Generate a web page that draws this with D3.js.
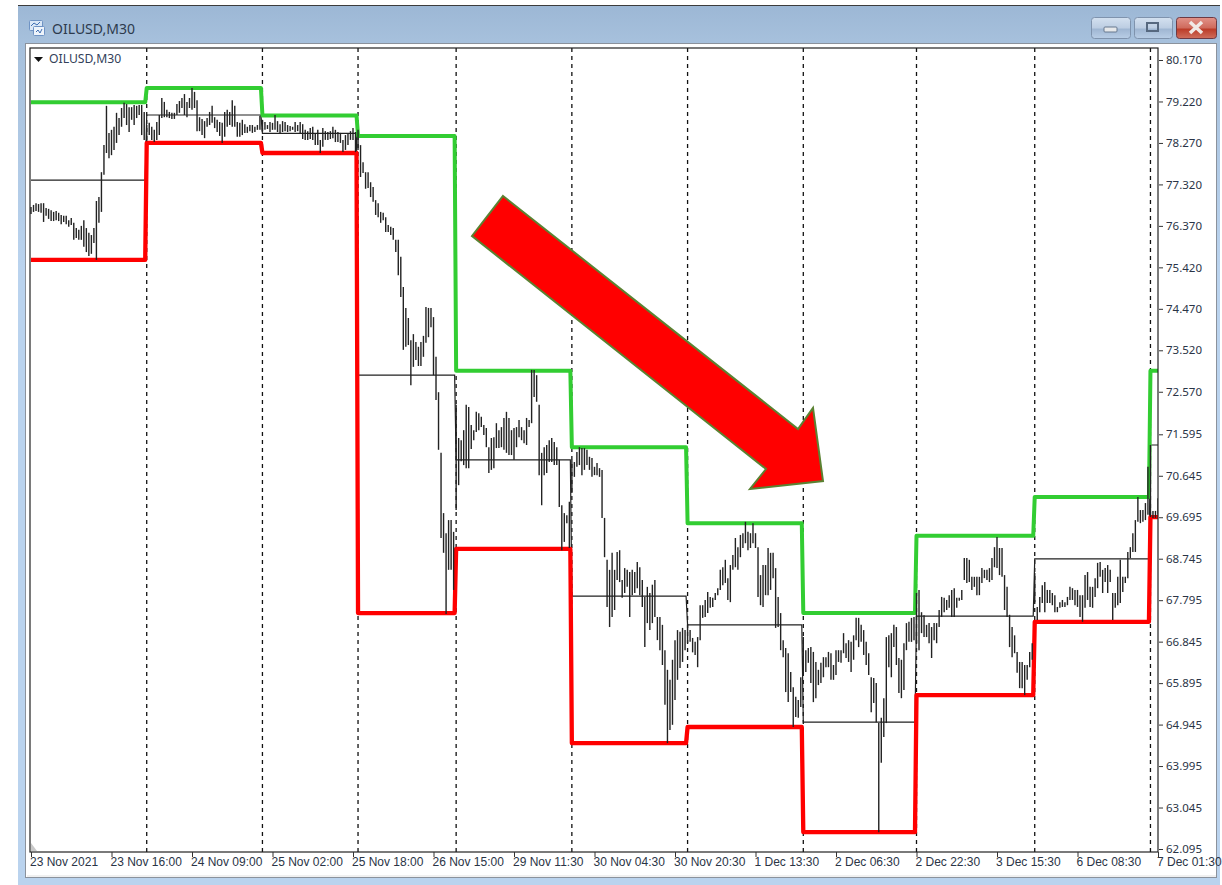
<!DOCTYPE html>
<html><head><meta charset="utf-8">
<style>html,body{margin:0;padding:0;background:#fff}svg{display:block}</style>
<script src="https://cdn.jsdelivr.net/npm/d3@7/dist/d3.min.js"></script>
</head><body><div id="c"></div>
<script>
const symbol = "OILUSD,M30";
const priceTicks = [80.17,79.22,78.27,77.32,76.37,75.42,74.47,73.52,72.57,71.595,70.645,69.695,68.745,67.795,66.845,65.895,64.945,63.995,63.045,62.095];
const timeTickBars = [0,32,64,96,128,160,192,224,256,288,320,352,384,416,448];
const timeTickLabels = ["23 Nov 2021","23 Nov 16:00","24 Nov 09:00","25 Nov 02:00","25 Nov 18:00","26 Nov 15:00","29 Nov 11:30","30 Nov 04:30","30 Nov 20:30","1 Dec 13:30","2 Dec 06:30","2 Dec 22:30","3 Dec 15:30","6 Dec 08:30","7 Dec 01:30"];
const dayStarts = [0,46,92,130,169,215,261,307,352,399,445];
const dayHigh = [79.20,79.53,78.90,78.43,73.05,71.30,69.56,67.50,69.27,70.16,73.05];
const dayLow  = [75.59,78.27,78.04,67.50,68.97,64.52,64.89,62.48,65.62,67.30,69.70];
const dayMid  = [77.42,78.91,78.49,72.95,71.01,67.89,67.23,65.00,67.43,68.74,71.35];
const barHigh = [
76.80,76.85,76.89,76.87,76.89,76.89,76.78,76.76,76.73,76.69,76.71,76.67,76.62,76.60,76.60,76.50,76.55,76.44,76.32,76.28,76.37,76.50,76.32,76.21,76.16,76.32,76.94,77.03,77.60,78.22,79.12,78.50,78.57,78.64,78.96,78.84,79.07,79.19,79.16,79.09,79.09,79.14,79.12,79.14,79.14,78.98,
78.68,78.73,78.64,78.57,78.75,78.91,79.30,79.21,79.03,78.98,78.96,78.96,79.16,79.23,79.30,79.39,79.21,79.30,79.53,79.44,79.25,78.86,78.82,78.77,78.84,78.98,79.12,78.86,78.80,78.75,78.73,78.98,79.03,78.98,79.25,79.12,78.75,78.73,78.80,78.70,78.64,78.68,78.68,78.64,78.68,78.89,
78.80,78.75,78.68,78.75,78.73,78.91,78.77,78.70,78.77,78.75,78.68,78.66,78.64,78.75,78.68,78.75,78.70,78.57,78.54,78.61,78.64,78.50,78.57,78.34,78.61,78.54,78.52,78.54,78.64,78.57,78.52,78.50,78.34,78.45,78.50,78.54,78.61,78.52,
78.57,78.22,77.83,77.60,77.60,77.37,77.26,76.96,76.89,76.69,76.67,76.57,76.39,76.35,76.32,76.05,76.05,75.66,74.97,74.49,74.26,73.75,73.89,73.71,73.60,73.71,73.85,74.51,74.49,74.49,74.28,73.37,72.56,71.17,69.79,69.33,69.63,69.63,69.36,
72.27,71.51,71.46,71.69,72.27,72.22,71.81,71.69,72.11,72.08,72.00,71.81,71.74,71.30,71.51,71.53,71.85,71.69,71.76,71.97,72.11,71.97,71.69,71.74,71.76,71.92,71.76,71.69,71.97,71.92,73.07,73.07,72.95,72.27,71.17,71.30,71.35,71.46,71.51,71.42,71.30,71.01,69.97,69.79,69.74,70.05,
71.01,70.96,71.19,71.30,71.28,71.28,71.24,71.08,71.05,70.85,70.94,70.82,70.78,69.68,68.72,68.49,68.88,68.49,68.90,68.94,68.26,68.53,68.49,68.44,68.49,68.44,68.67,68.55,68.26,67.87,68.10,67.96,68.15,68.26,67.41,67.41,67.23,66.65,66.20,65.97,66.43,66.88,67.11,67.07,67.16,67.11,
67.23,67.11,66.93,66.84,66.95,67.68,67.68,67.80,67.98,67.87,67.85,67.96,68.07,68.49,68.55,68.72,68.30,68.60,68.83,69.22,69.01,69.29,69.33,69.59,69.36,69.33,69.56,69.33,69.01,68.37,68.60,68.60,68.99,68.88,68.88,68.53,67.87,67.50,66.88,66.70,66.58,66.15,65.80,65.58,65.51,66.03,
66.95,66.65,66.70,66.72,66.61,66.38,66.20,66.36,66.49,66.49,66.61,66.58,66.31,66.65,66.65,66.65,67.04,66.81,66.88,66.84,66.99,67.39,67.39,67.23,67.11,66.84,66.58,66.03,66.01,65.90,64.98,65.10,65.55,66.95,66.99,67.04,67.23,67.18,66.47,66.43,66.81,67.27,67.30,67.39,67.41,
67.96,68.03,67.52,67.45,67.23,67.27,67.18,67.27,67.27,67.57,67.87,67.85,67.80,67.91,68.03,68.07,67.85,67.85,68.03,68.76,68.76,68.72,68.33,68.33,68.33,68.33,68.53,68.49,68.49,68.53,68.76,69.01,69.24,68.99,68.99,68.37,68.10,67.46,67.18,66.99,66.61,66.38,66.38,66.31,66.31,66.61,66.81,
68.42,67.64,67.87,68.14,68.21,68.03,68.03,67.96,67.91,67.64,67.75,67.80,67.75,67.87,68.10,68.07,68.03,68.03,67.91,67.91,68.37,68.44,68.10,68.10,68.30,68.65,68.67,68.49,68.53,68.60,68.49,67.96,67.96,68.33,68.72,68.33,68.33,68.90,69.01,69.33,69.63,70.16,69.86,69.86,70.02,70.85,71.35,69.84,69.84,70.13];
const barLow = [
76.64,76.69,76.71,76.69,76.67,76.46,76.60,76.53,76.48,76.48,76.50,76.48,76.41,76.46,76.41,76.35,76.39,76.05,76.09,76.05,76.05,75.89,75.77,75.68,75.73,75.98,75.59,76.44,76.69,77.54,78.04,77.92,77.99,78.11,78.27,78.45,78.64,78.84,78.68,78.52,78.80,78.68,78.84,78.91,78.45,78.34,
78.31,78.45,78.34,78.29,78.34,78.45,78.84,78.86,78.86,78.84,78.82,78.82,78.91,78.96,79.07,78.91,78.86,79.07,79.03,79.07,78.54,78.54,78.45,78.38,78.64,78.68,78.73,78.61,78.52,78.43,78.27,78.41,78.64,78.68,78.64,78.64,78.41,78.41,78.45,78.50,78.50,78.54,78.50,78.52,78.57,78.57,
78.54,78.57,78.59,78.52,78.57,78.57,78.52,78.50,78.52,78.54,78.52,78.54,78.57,78.52,78.54,78.50,78.36,78.34,78.34,78.36,78.34,78.22,78.22,78.04,78.18,78.34,78.34,78.36,78.38,78.29,78.29,78.27,78.06,78.11,78.22,78.34,78.34,78.06,
78.11,77.49,77.58,77.22,77.24,77.03,76.92,76.62,76.57,76.44,76.50,76.23,76.23,76.16,76.05,75.77,75.24,74.74,73.53,73.60,73.64,72.72,73.14,73.30,73.16,73.16,73.37,73.69,73.82,74.05,72.95,72.38,71.24,69.22,68.88,67.48,68.49,68.49,68.03,
69.86,70.43,70.98,70.89,70.82,70.82,71.26,71.46,71.65,71.69,71.76,71.58,71.30,70.71,70.78,70.82,71.28,71.28,71.30,71.24,71.17,71.12,71.12,71.01,71.30,71.53,71.46,71.39,71.35,71.76,71.85,72.45,72.34,70.66,69.97,70.66,70.71,70.96,70.96,70.89,70.89,69.93,68.94,69.13,69.56,68.99,
70.25,70.62,70.85,70.89,70.66,70.78,70.89,70.78,70.62,70.66,70.66,70.62,69.68,68.78,67.64,67.18,67.41,67.57,68.26,68.21,67.85,67.96,68.10,67.41,67.91,67.96,68.07,67.91,67.64,66.72,67.27,67.11,67.27,67.41,66.88,66.65,66.31,65.40,64.52,64.82,64.94,65.51,65.97,66.24,66.38,66.65,
66.81,66.84,66.60,66.54,66.26,66.88,67.39,67.41,67.50,67.62,67.64,67.80,67.91,68.03,68.14,68.19,67.80,67.75,68.49,68.55,68.49,68.78,68.99,69.10,68.94,68.99,69.10,68.99,67.87,67.68,67.64,67.91,67.91,68.03,68.30,67.16,67.18,66.65,66.49,65.69,65.46,65.69,64.89,65.12,65.10,65.35,
66.15,66.15,66.36,65.90,65.46,65.55,65.85,65.90,66.03,66.26,66.26,65.97,65.97,66.08,66.38,66.36,66.58,66.47,66.38,66.15,66.43,66.88,66.72,66.84,66.54,66.31,66.08,65.23,65.44,65.00,62.48,64.07,64.66,64.98,66.26,66.03,66.72,66.31,65.67,65.55,65.74,66.65,66.84,66.84,66.88,
66.81,66.65,67.04,66.95,66.95,66.81,66.47,66.88,66.81,67.18,67.41,67.52,67.57,67.62,67.41,67.41,67.62,67.78,67.80,68.26,68.19,68.21,68.03,68.10,67.91,67.91,68.19,68.30,68.26,68.21,68.26,68.55,68.53,68.37,68.33,67.57,67.41,66.72,66.49,66.58,66.13,65.78,65.78,65.62,65.97,66.26,66.43,
67.75,67.34,67.52,67.73,67.52,67.73,67.73,67.68,67.52,67.52,67.62,67.64,67.64,67.68,67.80,67.80,67.68,67.64,67.41,67.30,67.62,67.80,67.64,67.62,67.87,68.07,68.33,67.96,68.21,67.96,68.21,67.34,67.62,67.68,67.73,67.98,68.19,68.30,68.76,68.90,68.90,69.59,69.56,69.59,69.63,69.75,69.70,69.68,69.68,69.75];
const lastBar = 448;

const W = 1222, H = 885;
const plot = {l:30, r:1158, t:48, b:852};
const x = d3.scaleLinear().domain([0,lastBar]).range([31,1158]);
const y = d3.scaleLinear().domain([62.095,80.17]).range([849,60]);

const svg = d3.select("#c").append("svg").attr("width",W).attr("height",H);
const defs = svg.append("defs");
function grad(id,stops,x2,y2){
  const g = defs.append("linearGradient").attr("id",id).attr("x1",0).attr("y1",0).attr("x2",x2).attr("y2",y2);
  stops.forEach(s=>g.append("stop").attr("offset",s[0]).attr("stop-color",s[1]));
}
grad("frame",[[0,"#9cb7d5"],[0.04,"#a6c0dc"],[0.3,"#bad3ee"],[1,"#bad3ee"]],0,1);
grad("btn",[[0,"#d4e1f0"],[0.5,"#bccde2"],[0.55,"#9fb6d2"],[1,"#b9cee6"]],0,1);
grad("btnx",[[0,"#e2938a"],[0.5,"#cf6a5c"],[0.55,"#bb3b28"],[1,"#d0705e"]],0,1);
defs.append("clipPath").attr("id","plotclip").append("rect")
  .attr("x",plot.l).attr("y",plot.t).attr("width",plot.r-plot.l).attr("height",plot.b-plot.t);

// window chrome
svg.append("rect").attr("x",18).attr("y",5).attr("width",1202).attr("height",880).attr("fill","url(#frame)");
svg.append("rect").attr("x",18).attr("y",5).attr("width",1202).attr("height",1).attr("fill","#3c3c3c");
svg.append("rect").attr("x",25.5).attr("y",43.5).attr("width",1191).attr("height",834).attr("fill","#fff").attr("stroke","#8b929c");
svg.append("rect").attr("x",27).attr("y",875).attr("width",1189).attr("height",2).attr("fill","#f0f0f0");

const icon = svg.append("g").attr("transform","translate(29,20)");
icon.append("rect").attr("x",0.5).attr("y",0.5).attr("width",13).attr("height",10).attr("rx",1).attr("fill","#dbe8f7").attr("stroke","#6f93c4");
icon.append("rect").attr("x",4.5).attr("y",6.5).attr("width",11).attr("height",9).attr("rx",1).attr("fill","#eef4fb").attr("stroke","#6f93c4");
icon.append("path").attr("d","M2 6 L5 3 L8 5 L11 2 M7 12 L9 10 L11 13 L13 9").attr("fill","none").attr("stroke","#3f6fb3");
svg.append("text").attr("x",52).attr("y",34).attr("font-family","'Noto Sans'").attr("font-size",14).attr("fill","#2d3a4d").text(symbol);

const buttons = [
  {x:1091,w:39,fill:"url(#btn)",stroke:"#7f93ad"},
  {x:1134,w:38,fill:"url(#btn)",stroke:"#7f93ad"},
  {x:1176,w:40,fill:"url(#btnx)",stroke:"#6d3a44"}];
svg.selectAll("rect.b").data(buttons).join("rect").attr("class","b")
  .attr("x",d=>d.x+0.5).attr("y",17.5).attr("width",d=>d.w).attr("height",21).attr("rx",3)
  .attr("fill",d=>d.fill).attr("stroke",d=>d.stroke);
svg.append("rect").attr("x",1104).attr("y",27).attr("width",13).attr("height",5).attr("rx",1).attr("fill","#e6e8ea").attr("stroke","#66788f");
svg.append("rect").attr("x",1147).attr("y",23).attr("width",11).attr("height",8).attr("fill","none").attr("stroke","#56687f").attr("stroke-width",2);
svg.append("path").attr("d","M1190 22 L1202 33 M1202 22 L1190 33").attr("stroke","#f1e9e6").attr("stroke-width",3.5);

// plot
const chart = svg.append("g").attr("clip-path","url(#plotclip)");
chart.selectAll("line.day").data(dayStarts.slice(1)).join("line").attr("class","day")
  .attr("x1",d=>x(d)).attr("x2",d=>x(d)).attr("y1",plot.t).attr("y2",plot.b)
  .attr("stroke","#111").attr("stroke-width",1.3).attr("stroke-dasharray","4 4");

function stepped(values, gap){
  const pts = [];
  values.forEach((v,k)=>{
    pts.push([dayStarts[k],v]);
    pts.push([k<values.length-1 ? dayStarts[k+1]-gap : lastBar+2,v]);
  });
  return d3.line().x(d=>x(d[0])).y(d=>y(d[1]))(pts);
}
chart.append("path").attr("d",stepped(dayMid,0.6)).attr("fill","none").attr("stroke","#222").attr("stroke-width",1.2);
chart.append("path").attr("d",stepped(dayHigh,0.6)).attr("fill","none").attr("stroke","#32cd32").attr("stroke-width",4).attr("stroke-linejoin","round");
chart.append("path").attr("d",stepped(dayLow,0.6)).attr("fill","none").attr("stroke","#ff0000").attr("stroke-width",4.3).attr("stroke-linejoin","round");

chart.selectAll("line.bar").data(barHigh.map((h,i)=>({i,h,l:barLow[i]}))).join("line").attr("class","bar")
  .attr("x1",d=>x(d.i)).attr("x2",d=>x(d.i)).attr("y1",d=>y(d.h)).attr("y2",d=>y(d.l))
  .attr("stroke","#222").attr("stroke-width",1.4);

// frame & axes
svg.append("rect").attr("x",plot.l).attr("y",plot.t).attr("width",plot.r-plot.l).attr("height",plot.b-plot.t)
  .attr("fill","none").attr("stroke","#222").attr("stroke-width",1.2);
svg.append("path").attr("d","M31 843 L37 851 L31 851 Z").attr("fill","#c8c8c8");

const axR = d3.axisRight(y).tickValues(priceTicks).tickFormat(d3.format(".3f")).tickSize(4).tickPadding(4);
const gR = svg.append("g").attr("transform",`translate(${plot.r+1},0)`).call(axR);
gR.select(".domain").remove();
gR.selectAll("line").attr("stroke","#333");
gR.selectAll("text").attr("font-family","'Noto Sans'").attr("font-size",11.5).attr("fill","#2a3446").attr("x",7);

const axB = d3.axisBottom(x).tickValues(timeTickBars).tickFormat((d,i)=>timeTickLabels[i]).tickSize(5).tickPadding(3);
const gB = svg.append("g").attr("transform",`translate(0,${plot.b})`).call(axB);
gB.select(".domain").remove();
gB.selectAll("line").attr("stroke","#333");
gB.selectAll("text").attr("font-family","'Liberation Sans'").attr("font-size",12).attr("fill","#2a3446")
  .attr("text-anchor","start").attr("x",-1.5).attr("y",5.5);

// indicator label
svg.append("path").attr("d","M34 57 L43 57 L38.5 62 Z").attr("fill","#111");
svg.append("text").attr("x",49).attr("y",63).attr("font-family","'Noto Sans'").attr("font-size",12.2).attr("fill","#33415a").text(symbol);

// annotation arrow
const arrowPts = [[503,196],[798,429],[813,408],[823,481],[750,489],[766,469],[472,236]];
svg.append("polygon").attr("points",arrowPts.map(p=>p.join(",")).join(" "))
  .attr("fill","#ff0000").attr("stroke","#5a8232").attr("stroke-width",2);
</script></body></html>
